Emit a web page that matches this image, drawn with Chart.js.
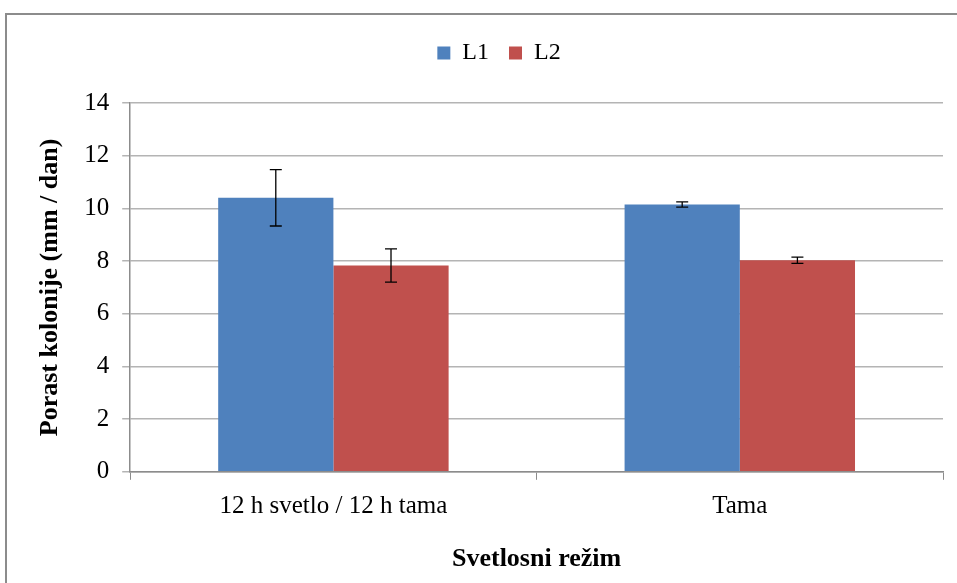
<!DOCTYPE html>
<html>
<head>
<meta charset="utf-8">
<script src="https://cdn.jsdelivr.net/npm/chart.js@4.4.0/dist/chart.umd.min.js"></script>
<style>
  html, body { margin: 0; padding: 0; background: #fff; }
  #okvir { position: absolute; left: 0; top: 0; width: 957px; height: 583px; }
  #ivica { position: absolute; left: 5px; top: 13px; width: 960px; height: 580px;
           border-left: 2px solid #8c8c8c; border-top: 2px solid #8c8c8c; }
  canvas { position: absolute; left: 0; top: 0; }
</style>
</head>
<body>
<div id="okvir">
  <div id="ivica"></div>
  <canvas id="grafik" width="957" height="583"></canvas>
</div>
<script>
// Podaci sa grafika
const kategorije = ["12 h svetlo / 12 h tama", "Tama"];
const serijaL1 = [10.4, 10.15];
const serijaL2 = [7.83, 8.03];
const greskaL1 = [1.07, 0.1];
const greskaL2 = [0.63, 0.12];

const fontSerif = "'Liberation Serif', 'Times New Roman', serif";

// Plugin za crtanje error barova
const errorBarovi = {
    id: 'errorBarovi',
    afterDatasetsDraw(chart) {
        const ctx = chart.ctx;
        const y = chart.scales.y;
        chart.data.datasets.forEach((ds, i) => {
            const meta = chart.getDatasetMeta(i);
            meta.data.forEach((bar, j) => {
                const v = ds.data[j];
                const e = ds.greske[j];
                const yGore = y.getPixelForValue(v + e);
                const yDole = y.getPixelForValue(v - e);
                ctx.save();
                ctx.strokeStyle = '#000';
                ctx.lineWidth = 1.3;
                ctx.beginPath();
                ctx.moveTo(bar.x, yGore);
                ctx.lineTo(bar.x, yDole);
                ctx.moveTo(bar.x - 6, yGore);
                ctx.lineTo(bar.x + 6, yGore);
                ctx.moveTo(bar.x - 6, yDole);
                ctx.lineTo(bar.x + 6, yDole);
                ctx.stroke();
                ctx.restore();
            });
        });
    }
};

// Dodatni razmak ispod legende i malo pomeranje udesno
const razmakLegende = {
    id: 'razmakLegende',
    beforeInit(chart) {
        const fit = chart.legend.fit;
        chart.legend.fit = function () {
            fit.bind(chart.legend)();
            this.height += 28;
        };
    },
    afterLayout(chart) {
        chart.legend.left += 12;
        chart.legend.right += 12;
    }
};

new Chart(document.getElementById('grafik'), {
    type: 'bar',
    data: {
        labels: kategorije,
        datasets: [
            {
                label: 'L1',
                data: serijaL1,
                greske: greskaL1,
                backgroundColor: '#4F81BD',
                borderWidth: 0,
            },
            {
                label: 'L2',
                data: serijaL2,
                greske: greskaL2,
                backgroundColor: '#C0504D',
                borderWidth: 0,
            },
        ],
    },
    options: {
        responsive: false,
        animation: false,
        layout: { padding: { left: 31, right: 14, top: 21, bottom: 4 } },
        plugins: {
            legend: {
                display: true,
                labels: {
                    color: '#000',
                    font: { family: fontSerif, size: 24 },
                    boxWidth: 13,
                    boxHeight: 13,
                    padding: 20,
                },
            },
            tooltip: { enabled: false },
        },
        datasets: {
            bar: { categoryPercentage: 0.567, barPercentage: 1.0 },
        },
        scales: {
            x: {
                grid: {
                    display: true,
                    drawOnChartArea: false,
                    offset: true,
                    color: '#8c8c8c',
                    tickLength: 8,
                },
                border: { color: '#8c8c8c', width: 1.5 },
                ticks: { color: '#000', font: { family: fontSerif, size: 25 }, padding: 12 },
                title: {
                    display: true,
                    text: 'Svetlosni režim',
                    color: '#000',
                    font: { family: fontSerif, size: 26, weight: 'bold' },
                    padding: { top: 10 },
                },
            },
            y: {
                min: 0,
                max: 14,
                ticks: { stepSize: 2, color: '#000', font: { family: fontSerif, size: 25 }, padding: 13 },
                grid: { color: '#b4b4b4', lineWidth: 1.5, tickLength: 8 },
                border: { color: '#8c8c8c', width: 1.5 },
                title: {
                    display: true,
                    text: 'Porast kolonije (mm / dan)',
                    color: '#000',
                    font: { family: fontSerif, size: 26, weight: 'bold' },
                    padding: { bottom: 5 },
                },
            },
        },
    },
    plugins: [errorBarovi, razmakLegende],
});
</script>
</body>
</html>
